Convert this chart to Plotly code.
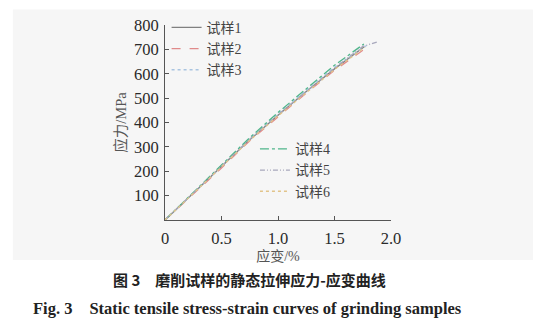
import plotly.graph_objects as go

# ---- data ----
names = ["试样1", "试样2", "试样3", "试样4", "试样5", "试样6"]
strain_1 = [0, 0.25, 0.5, 0.75, 1.0, 1.25, 1.5, 1.76]
stress_1 = [0, 109, 216, 329, 430, 527, 620, 710]
strain_2 = [0, 0.25, 0.5, 0.75, 1.0, 1.25, 1.5, 1.78]
stress_2 = [0, 107, 213, 325, 424, 521, 614, 706]
strain_3 = [0, 0.25, 0.5, 0.75, 1.0, 1.25, 1.5, 1.79]
stress_3 = [0, 111, 220, 333, 435, 533, 627, 718]
strain_4 = [0, 0.25, 0.5, 0.75, 1.0, 1.25, 1.5, 1.76]
stress_4 = [0, 113, 224, 338, 441, 540, 635, 722]
strain_5 = [0, 0.25, 0.5, 0.75, 1.0, 1.25, 1.5, 1.75, 1.88]
stress_5 = [0, 110, 219, 331, 432, 529, 623, 712, 731]
strain_6 = [0, 0.25, 0.5, 0.75, 1.0, 1.25, 1.5, 1.77]
stress_6 = [0, 108, 215, 327, 427, 524, 617, 709]

strains = [strain_1, strain_2, strain_3, strain_4, strain_5, strain_6]
stresses = [stress_1, stress_2, stress_3, stress_4, stress_5, stress_6]

x_ticks = [0, 0.5, 1.0, 1.5, 2.0]
x_tick_text = ["0", "0.5", "1.0", "1.5", "2.0"]
y_ticks = [100, 200, 300, 400, 500, 600, 700, 800]

colors = ["#808080", "#e08a8a", "#a9c4e0", "#4fb58a", "#a8a8bc", "#e2c48a"]
dashes = ["solid", "dash", "dot", "dashdot", "5px,2px,1px,2px,1px,2px", "dot"]
legends = ["legend", "legend", "legend", "legend2", "legend2", "legend2"]

SERIF = "Liberation Serif, Noto Sans CJK SC, serif"

fig = go.Figure()
for n, xs, ys, c, d, lg in zip(names, strains, stresses, colors, dashes, legends):
    fig.add_trace(go.Scatter(x=xs, y=ys, mode="lines", name=n,
                             line=dict(color=c, dash=d, width=1.3),
                             legend=lg))

axis_common = dict(showline=True, linecolor="#555555", linewidth=1,
                   ticks="inside", ticklen=4, tickcolor="#555555",
                   showgrid=False, zeroline=False,
                   tickfont=dict(family=SERIF, size=16.5, color="#2a2a2a"))

fig.update_layout(
    width=560, height=336,
    margin=dict(l=165, r=169, t=15, b=116),
    paper_bgcolor="white",
    plot_bgcolor="rgba(0,0,0,0)",
    showlegend=True,
    xaxis=dict(range=[0, 2.0], tickvals=x_ticks, ticktext=x_tick_text,
               title=dict(text="应变/%", standoff=4,
                          font=dict(family=SERIF, size=14, color="#555555")),
               ticklabelstandoff=3,
               **axis_common),
    yaxis=dict(range=[0, 800], tickvals=y_ticks,
               title=dict(text="应力/MPa", standoff=3,
                          font=dict(family=SERIF, size=14.5, color="#555555")),
               ticklabelstandoff=2,
               **axis_common),
    legend=dict(x=0.007, y=1.068, xanchor="left", yanchor="top",
                bgcolor="rgba(0,0,0,0)", tracegroupgap=0,
                font=dict(family=SERIF, size=14, color="#444444"),
                itemwidth=30),
    legend2=dict(x=0.398, y=0.445, xanchor="left", yanchor="top",
                 bgcolor="rgba(0,0,0,0)",
                 font=dict(family=SERIF, size=14, color="#444444"),
                 itemwidth=30),
    shapes=[dict(type="rect", xref="paper", yref="paper",
                 x0=-0.673, x1=1.628, y0=-0.205, y1=1.08,
                 fillcolor="#f6f6f6", line=dict(width=0), layer="below")],
    annotations=[
        dict(text="<b>图 3　磨削试样的静态拉伸应力-应变曲线</b>",
             xref="paper", yref="paper", x=0.376, y=-0.307,
             xanchor="center", yanchor="middle", showarrow=False,
             font=dict(family="Noto Sans CJK SC", size=15, color="#222222")),
        dict(text="<b>Fig. 3　Static tensile stress-strain curves of grinding samples</b>",
             xref="paper", yref="paper", x=0.367, y=-0.454,
             xanchor="center", yanchor="middle", showarrow=False,
             font=dict(family="Liberation Serif", size=16.5, color="#222222")),
    ],
)

fig.write_html("out.html")
